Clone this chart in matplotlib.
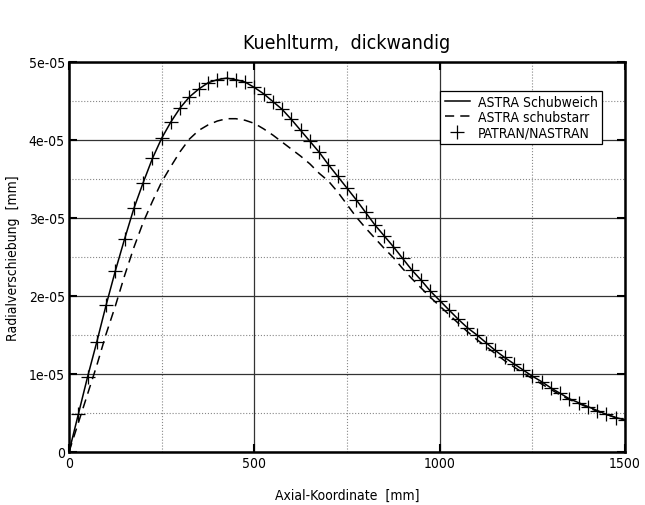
import matplotlib
matplotlib.use("Agg")
import matplotlib.pyplot as plt
from matplotlib.ticker import MultipleLocator, FixedLocator, FixedFormatter

plt.rcParams['font.family'] = ['Liberation Sans Narrow', 'DejaVu Sans']
plt.rcParams['font.stretch'] = 'condensed'

# --- data (radial displacement in 1e-05 mm) ---
x_weich = [0, 25, 50, 75, 100, 125, 150, 175, 200, 225, 250, 275, 300, 325, 350,
           375, 400, 425, 450, 475, 500, 525, 550, 575, 600, 625, 650, 675, 700,
           725, 750, 775, 800, 825, 850, 875, 900, 925, 950, 975, 1000, 1025, 1050,
           1075, 1100, 1125, 1150, 1175, 1200, 1225, 1250, 1275, 1300, 1325, 1350,
           1375, 1400, 1425, 1450, 1475, 1500]
y_weich = [0.00, 0.48, 0.96, 1.41, 1.88, 2.32, 2.73, 3.12, 3.45, 3.76, 4.02, 4.23,
           4.41, 4.55, 4.65, 4.73, 4.77, 4.79, 4.77, 4.74, 4.67, 4.59, 4.49, 4.39,
           4.26, 4.12, 3.98, 3.84, 3.68, 3.53, 3.38, 3.23, 3.07, 2.91, 2.77, 2.63,
           2.48, 2.33, 2.20, 2.06, 1.94, 1.82, 1.70, 1.59, 1.50, 1.40, 1.30, 1.21,
           1.13, 1.05, 0.97, 0.90, 0.82, 0.75, 0.68, 0.63, 0.58, 0.53, 0.48, 0.44,
           0.41]

x_starr = x_weich
y_starr = [0.00, 0.37, 0.74, 1.11, 1.51, 1.87, 2.26, 2.62, 2.94, 3.21, 3.46, 3.66,
           3.85, 4.01, 4.12, 4.19, 4.24, 4.27, 4.27, 4.25, 4.21, 4.14, 4.06, 3.97,
           3.88, 3.79, 3.69, 3.57, 3.47, 3.33, 3.17, 3.01, 2.87, 2.74, 2.61, 2.49,
           2.35, 2.22, 2.10, 1.98, 1.87, 1.76, 1.65, 1.54, 1.44, 1.35, 1.26, 1.17,
           1.09, 1.01, 0.94, 0.87, 0.80, 0.73, 0.67, 0.62, 0.57, 0.52, 0.48, 0.44,
           0.41]

x_patran = x_weich[1:]
y_patran = y_weich[1:]

scale = 1e-5
yticks = [0, 1e-5, 2e-5, 3e-5, 4e-5, 5e-5]
ytick_labels = ['0', '1e-05', '2e-05', '3e-05', '4e-05', '5e-05']
xticks = [0, 500, 1000, 1500]

fig = plt.figure(figsize=(6.45, 5.06), dpi=100)
ax = fig.add_axes([0.107, 0.105, 0.862, 0.771])

ax.plot(x_weich, [v * scale for v in y_weich], '-', color='black', lw=1.1,
        label='ASTRA Schubweich')
ax.plot(x_starr, [v * scale for v in y_starr], color='black', lw=1.1,
        dashes=(6, 4), label='ASTRA schubstarr')
ax.plot(x_patran, [v * scale for v in y_patran], '+', color='black', ms=10,
        mew=0.9, label='PATRAN/NASTRAN')

ax.set_xlim(0, 1500)
ax.set_ylim(0, 5e-5)
ax.xaxis.set_major_locator(FixedLocator(xticks))
ax.xaxis.set_minor_locator(MultipleLocator(250))
ax.yaxis.set_major_locator(FixedLocator(yticks))
ax.yaxis.set_major_formatter(FixedFormatter(ytick_labels))
ax.yaxis.set_minor_locator(MultipleLocator(0.5e-5))

ax.grid(True, which='major', color='#333333', lw=0.9, ls='-')
ax.grid(True, which='minor', color='#888888', lw=0.8, ls=':')
ax.set_axisbelow(True)

ax.tick_params(which='major', direction='in', length=6, width=1.5,
               top=True, right=True, labelsize=10, pad=3)
ax.tick_params(which='minor', length=0)
for s in ax.spines.values():
    s.set_linewidth(1.8)

ax.set_title('Kuehlturm,  dickwandig', fontsize=14, pad=10)
ax.set_xlabel('Axial-Koordinate  [mm]', fontsize=10, labelpad=13)
ax.set_ylabel('Radialverschiebung  [mm]', fontsize=10, labelpad=6)

leg = ax.legend(loc='upper left', bbox_to_anchor=(0.668, 0.926), fontsize=10,
                frameon=True, fancybox=False, framealpha=1, edgecolor='black',
                handlelength=1.8, handletextpad=0.6, borderpad=0.3,
                labelspacing=0.1, borderaxespad=0)
leg.get_frame().set_linewidth(0.9)

fig.savefig('out.png', dpi=100)
